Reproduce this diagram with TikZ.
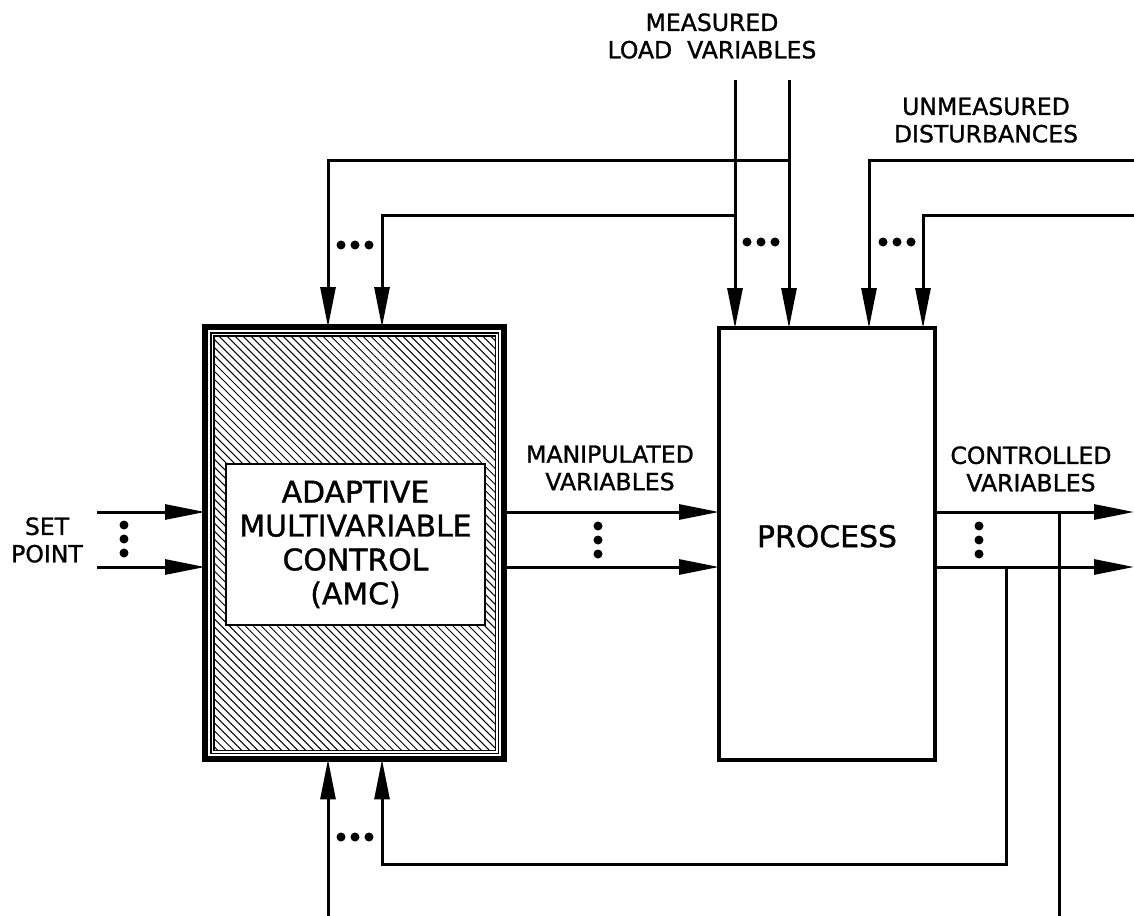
\documentclass[tikz,border=0pt]{standalone}
\usepackage{fontspec}
\setmainfont{DejaVu Sans}[FakeBold=1.2]
\usetikzlibrary{arrows.meta,patterns.meta}
\tikzstyle{amcbox} = [rectangle, draw=black, line width=0.12cm, minimum width=5.99cm, minimum height=8.65cm, inner sep=0pt, outer sep=0pt]
\tikzstyle{procbox} = [rectangle, draw=black, line width=0.09cm, minimum width=4.32cm, minimum height=8.64cm, inner sep=0pt, outer sep=0pt, text depth=0.32cm, font=\fontsize{17}{20}\selectfont]
\tikzstyle{textbox} = [rectangle, draw=black, fill=white, line width=0.03cm, minimum width=5.18cm, minimum height=3.22cm, align=center, font=\fontsize{17}{19.3}\selectfont]
\tikzstyle{sigtext} = [align=center, inner sep=0pt, font=\fontsize{13.4}{15.6}\selectfont]
\tikzstyle{wire} = [line width=0.06cm]
\tikzstyle{arrow} = [wire, -{Triangle[length=0.8cm,width=0.3cm]}]
\tikzstyle{hatch} = [pattern={Lines[angle=-45,distance=0.113cm,line width=0.02cm]}]
\tikzset{hdots/.pic={\foreach \d in {-14,0,14} \fill (\d,0) circle [radius=0.09cm];}}
\tikzset{vdots/.pic={\foreach \d in {-14,0,14} \fill (0,\d) circle [radius=0.09cm];}}
\begin{document}
\begin{tikzpicture}[x=0.02cm, y=-0.02cm]
\useasboundingbox (0,0) rectangle (1134,916);

% blocks
\node (amc) [amcbox] at (354.75,543.25) {};
\fill [hatch] ([shift={(9,9)}]amc.north west) rectangle ([shift={(-9,-9)}]amc.south east);
\draw [line width=0.025cm] ([shift={(6,6)}]amc.north west) rectangle ([shift={(-6,-6)}]amc.south east);
\draw [line width=0.025cm] ([shift={(9,9)}]amc.north west) rectangle ([shift={(-9,-9)}]amc.south east);
\node (amctext) [textbox] at (355.5,544.5) {ADAPTIVE\\MULTIVARIABLE\\CONTROL\\(AMC)};
\node (proc) [procbox] at (827,544) {PROCESS};

% labels
\node (measured) [sigtext] at (712,36) {MEASURED\\LOAD~~VARIABLES};
\node (unmeasured) [sigtext] at (986,120) {UNMEASURED\\DISTURBANCES};
\node (setpoint) [sigtext] at (47,540) {SET\\POINT};
\node (manip) [sigtext] at (610,468) {MANIPULATED\\VARIABLES};
\node (ctrl) [sigtext] at (1031,469) {CONTROLLED\\VARIABLES};

% free ends
\coordinate (ml1) at (735,80);
\coordinate (ml2) at (789,80);
\coordinate (ud1) at (1134,160);
\coordinate (ud2) at (1134,215);
\coordinate (ud1k) at (869,160);
\coordinate (ud2k) at (923,215);
\coordinate (top1) at (328,160);
\coordinate (top2) at (382,215);
\coordinate (sp1) at (97,512);
\coordinate (sp2) at (97,567);
\coordinate (cv1) at (1134,512);
\coordinate (cv2) at (1134,567);
\coordinate (fb1) at (1059,916);
\coordinate (fb2) at (1006,864);
\coordinate (bot1) at (328,916);

% measured loads
\draw [arrow] (ml1) -- (ml1 |- proc.north);
\draw [arrow] (ml2) -- (ml2 |- proc.north);
\draw [arrow] (ml2 |- top1) -- (top1) -- (top1 |- amc.north);
\draw [arrow] (ml1 |- top2) -- (top2) -- (top2 |- amc.north);

% unmeasured disturbances
\draw [arrow] (ud1) -- (ud1k) -- (ud1k |- proc.north);
\draw [arrow] (ud2) -- (ud2k) -- (ud2k |- proc.north);

% set point, manipulated and controlled variables
\draw [arrow] (sp1) -- (sp1 -| amc.west);
\draw [arrow] (sp2) -- (sp2 -| amc.west);
\draw [arrow] (amc.east |- sp1) -- (proc.west |- sp1);
\draw [arrow] (amc.east |- sp2) -- (proc.west |- sp2);
\draw [arrow] (proc.east |- cv1) -- (cv1);
\draw [arrow] (proc.east |- cv2) -- (cv2);

% feedback
\draw [wire] (fb1 |- cv1) -- (fb1);
\draw [arrow] (fb2 |- cv2) -- (fb2) -| (top2 |- amc.south);
\draw [arrow] (bot1) -- (top1 |- amc.south);

% dots
\pic at (355,245) {hdots};
\pic at (761,242) {hdots};
\pic at (897,242) {hdots};
\pic at (355,837) {hdots};
\pic at (124,539) {vdots};
\pic at (598,540) {vdots};
\pic at (979,540) {vdots};
\end{tikzpicture}
\end{document}
